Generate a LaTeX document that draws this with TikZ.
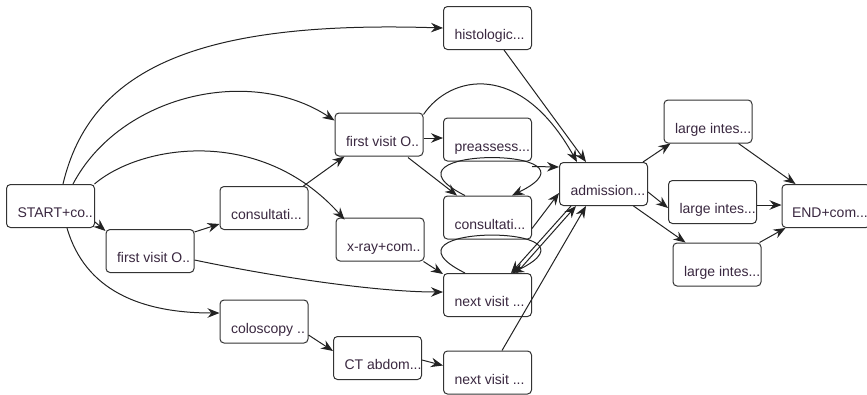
\documentclass[tikz,border=0pt]{standalone}
\usepackage{fontspec}
\setmainfont{Liberation Sans}
\usetikzlibrary{arrows.meta}
\definecolor{edgecol}{RGB}{34,34,34}
\definecolor{boxcol}{RGB}{51,51,51}
\definecolor{txtcol}{RGB}{58,40,64}
\newcommand\lbl[1]{\makebox[66pt][l]{#1}}
\begin{document}
\begin{tikzpicture}[x=1pt,y=-1pt,
  box/.style={draw=boxcol, line width=1pt, rounded corners=4pt, fill=white,
    minimum width=88pt, minimum height=43pt, inner xsep=11pt, inner ysep=0pt,
    text height=25pt, text depth=2pt, text=txtcol,
    font=\fontsize{14pt}{16pt}\selectfont},
  arr/.style={draw=edgecol, line width=1pt,
    -{Stealth[length=12pt,width=9.5pt,inset=4pt]}},
  plain/.style={draw=edgecol, line width=1pt}]
\useasboundingbox (0,0) rectangle (867,394);
% nodes
\node[box] (start) at (50.5,206) {\lbl{START+co..}};
\node[box] (fv2) at (150,251) {\lbl{first visit O..}};
\node[box] (cons1) at (264,208) {\lbl{consultati...}};
\node[box] (colo) at (264,321.5) {\lbl{coloscopy ..}};
\node[box] (fv1) at (379,134.5) {\lbl{first visit O..}};
\node[box] (xray) at (380,239.5) {\lbl{x-ray+com..}};
\node[box] (ct) at (377.5,358) {\lbl{CT abdom...}};
\node[box] (hist) at (487.5,28) {\lbl{histologic...}};
\node[box] (pre) at (487.5,139.5) {\lbl{preassess...}};
\node[box] (cons2) at (487.5,217.5) {\lbl{consultati...}};
\node[box] (nv1) at (487.5,295) {\lbl{next visit ...}};
\node[box] (nv2) at (487.5,372.5) {\lbl{next visit ...}};
\node[box] (adm) at (603.5,184) {\lbl{admission...}};
\node[box] (li1) at (708,121.5) {\lbl{large intes...}};
\node[box] (li2) at (712.5,202) {\lbl{large intes...}};
\node[box] (li3) at (717,264.5) {\lbl{large intes...}};
\node[box, inner xsep=10pt, minimum width=88pt] (end) at (826,206) {\makebox[68pt][l]{END+com...}};
% edges from START
\draw[arr] ([xshift=12.5pt]start.north) .. controls (90,70) and (195,20) .. (hist.west);
\draw[arr] ([xshift=22.5pt]start.north) .. controls (120,95) and (250,65) .. ([yshift=14pt]fv1.west);
\draw[arr] ([xshift=44pt]start.north) .. controls (140,145) and (260,125) .. ([xshift=9pt,yshift=-2pt]xray.north west);
\draw[arr] ([yshift=6pt]start.south east) -- ([yshift=-2pt]fv2.north west);
\draw[arr] ([xshift=16.5pt]start.south) .. controls (85,290) and (140,313) .. ([yshift=8.5pt]colo.west);
% lower first visit
\draw[arr] ([yshift=-3pt]fv2.north east) -- ([yshift=-16pt]cons1.west);
\draw[arr] ([yshift=-9pt]fv2.east) .. controls (280,278) and (380,292) .. ([yshift=3pt]nv1.west);
% consultation left
\draw[arr] ([xshift=-5pt]cons1.north east) -- ([xshift=10pt]fv1.south west);
% coloscopy / CT
\draw[arr] ([yshift=-13.5pt]colo.east) -- ([yshift=-15pt]ct.north west);
\draw[arr] ([yshift=-2pt]ct.east) -- ([yshift=-15pt]nv2.north west);
% x-ray
\draw[arr] ([xshift=-1pt]xray.south east) -- ([yshift=-1pt]nv1.north west);
% upper first visit
\draw[arr] ([yshift=-3.5pt]fv1.east) -- ([yshift=1.5pt]pre.west);
\draw[arr] ([xshift=29pt,yshift=-1pt]fv1.south) -- ([xshift=-30.5pt]cons2.north);
\draw[arr] ([yshift=-2pt]fv1.north east) .. controls (450,75) and (520,60) .. ([xshift=-26.5pt]adm.north);
% histologic
\draw[arr] ([xshift=16.5pt]hist.south) -- ([xshift=-17.5pt]adm.north);
% preassess
\draw[arr] ([yshift=-5pt]pre.south east) -- ([yshift=-5pt]adm.north west);
% self loops
\draw[arr] ([xshift=-22.5pt]cons2.north) .. controls +(-100,-50) and +(102,-50) .. ([xshift=24.5pt]cons2.north);
\draw[arr] ([xshift=-22.5pt]nv1.north) .. controls +(-100,-50) and +(102,-50) .. ([xshift=24.5pt]nv1.north);
% consultation middle
\draw[arr] ([yshift=-11pt]cons2.east) -- ([yshift=-9pt]adm.west);
% next visits to/from admission
\draw[arr] ([xshift=-32.5pt]adm.south) -- ([xshift=23.5pt]nv1.north);
\draw[arr] ([xshift=29pt]nv1.north) -- ([xshift=-27.5pt]adm.south);
\draw[arr] ([xshift=14.5pt]nv2.north) -- ([xshift=-17.5pt]adm.south);
% admission to large intestine
\draw[arr] ([xshift=-5pt]adm.north east) -- ([xshift=7pt]li1.south west);
\draw[arr] ([yshift=-8pt]adm.east) -- ([yshift=-6pt]li2.west);
\draw[arr] ([xshift=30pt]adm.south) -- ([xshift=13pt]li3.north west);
% large intestine to END
\draw[arr] ([xshift=-14pt]li1.south east) -- ([xshift=14pt]end.north west);
\draw[arr] ([yshift=-3pt]li2.east) -- ([yshift=1pt]end.west);
\draw[arr] ([xshift=-2pt]li3.north east) -- ([xshift=4pt]end.south west);
\end{tikzpicture}
\end{document}
